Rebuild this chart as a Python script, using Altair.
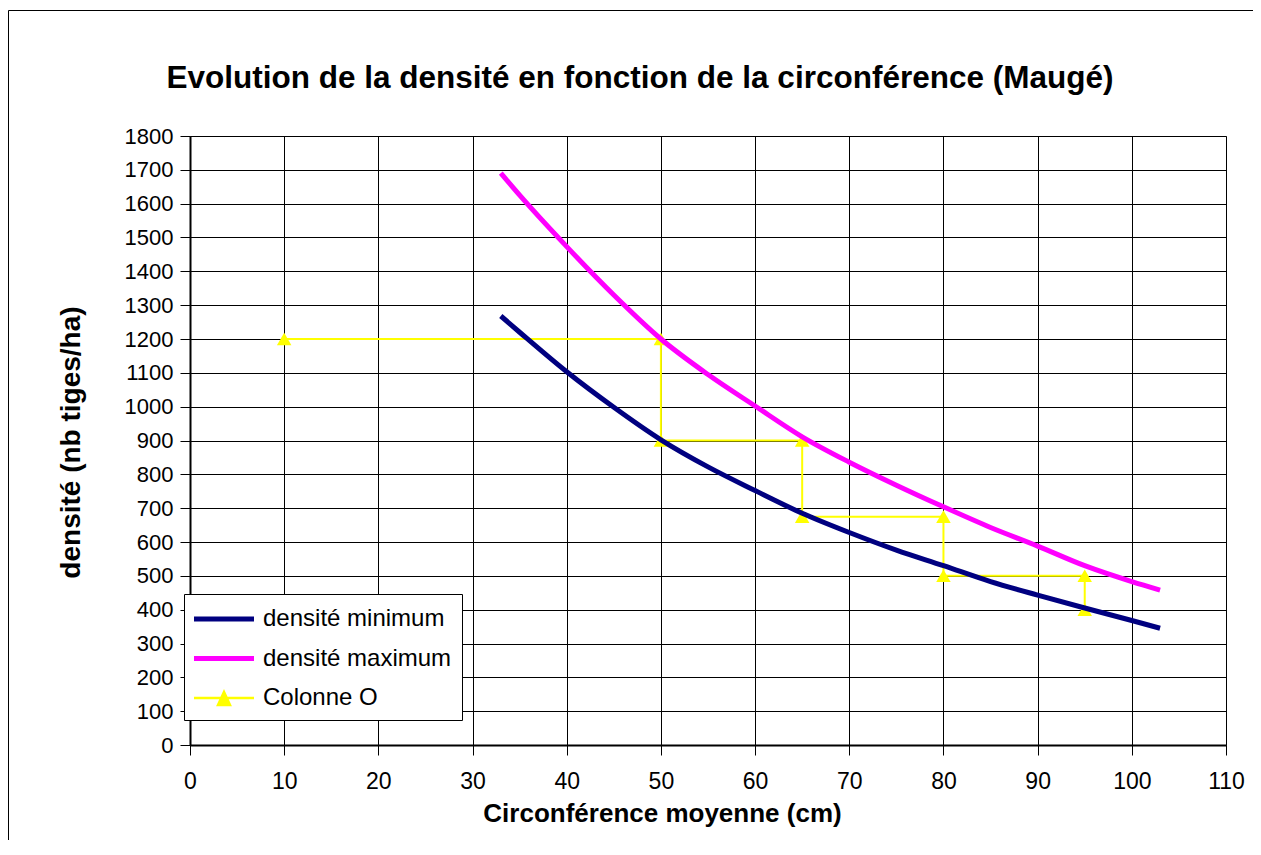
import altair as alt
import pandas as pd

# ---- data ----
series_names = ["densité minimum", "densité maximum", "Colonne O"]
series_colors = ["#000080", "#FF00FF", "#FFFF00"]

circ_curve = [33, 35, 40, 45, 50, 55, 60, 65, 70, 75, 80, 85, 90, 95, 100, 103]
dens_min = [1268, 1220, 1103, 998, 902, 822, 752, 685, 628, 576, 530, 483, 443, 405, 368, 345]
dens_max = [1690, 1625, 1473, 1330, 1200, 1095, 1002, 911, 836, 768, 704, 643, 588, 530, 483, 458]

circ_col_o = [10, 50, 50, 65, 65, 80, 80, 95, 95]
dens_col_o = [1200, 1200, 900, 900, 675, 675, 500, 500, 400]

x_ticks = list(range(0, 111, 10))
y_ticks = list(range(0, 1801, 100))

title_text = "Evolution de la densité en fonction de la circonférence (Maugé)"
x_title = "Circonférence moyenne (cm)"
y_title = "densité (nb tiges/ha)"

# ---- tables ----
df_min = pd.DataFrame({"c": circ_curve, "d": dens_min, "order": range(len(circ_curve))})
df_max = pd.DataFrame({"c": circ_curve, "d": dens_max, "order": range(len(circ_curve))})
df_o = pd.DataFrame({"c": circ_col_o, "d": dens_col_o, "order": range(len(circ_col_o))})
df_leg = pd.DataFrame({"series": series_names})

FONT = "Liberation Sans"
W, H = 1036, 609

xscale = alt.Scale(domain=[0, 110], nice=False, zero=False)
yscale = alt.Scale(domain=[0, 1800], nice=False)

xaxis = alt.Axis(values=x_ticks, format="d", title=x_title, grid=True, tickSize=10, labelPadding=15,
                 labelFlush=False, labelFontSize=23, titleFontSize=26,
                 titleX=472, titleY=76, titleBaseline="alphabetic", titleAlign="center")
yaxis = alt.Axis(values=y_ticks, format="d", title=y_title, grid=True, tickSize=10, labelPadding=7,
                 labelFlush=False, labelFontSize=22, titleFontSize=28,
                 titleX=-111, titleY=306, titleBaseline="alphabetic", titleAlign="center")

X = alt.X("c:Q", scale=xscale, axis=xaxis)
Y = alt.Y("d:Q", scale=yscale, axis=yaxis)

# outer frame of the chart object
frame = alt.Chart(pd.DataFrame({"k": [0]})).mark_rect(
    filled=False, stroke="black", strokeWidth=1
).encode(x=alt.value(-181.5), x2=alt.value(W + 400), y=alt.value(-125.5), y2=alt.value(H + 400))

line_o = alt.Chart(df_o).mark_line(color="#FFFF00", strokeWidth=2).encode(
    x=X, y=Y, order="order:Q")
pts_o = alt.Chart(df_o).mark_point(shape="triangle-up", filled=True, color="#FFFF00",
                                   size=210, opacity=1).encode(x=X, y=Y)
line_min = alt.Chart(df_min).mark_line(color="#000080", strokeWidth=5,
                                       interpolate="monotone").encode(x=X, y=Y, order="order:Q")
line_max = alt.Chart(df_max).mark_line(color="#FF00FF", strokeWidth=5,
                                       interpolate="monotone").encode(x=X, y=Y, order="order:Q")

# legend (symbol paths: thick line / thin line with triangle)
shape_paths = [
    "M-1,-0.17L3,-0.17L3,0.17L-1,0.17Z",
    "M-1,-0.17L3,-0.17L3,0.17L-1,0.17Z",
    "M-1,-0.08L3,-0.08L3,0.08L-1,0.08ZM0.47,0.55L1,-0.6L1.53,0.55Z",
]
leg = alt.Legend(title=None, orient="none", legendX=-6, legendY=458,
                 fillColor="white", strokeColor="black", padding=10, rowPadding=12.5,
                 symbolSize=900, symbolStrokeWidth=0, symbolOpacity=1, labelLimit=500,
                 labelFont=FONT, labelFontSize=24, labelColor="black", labelOffset=39)
legend_layer = alt.Chart(df_leg).mark_point(filled=True).encode(
    color=alt.Color("series:N", scale=alt.Scale(domain=series_names, range=series_colors), legend=leg),
    shape=alt.Shape("series:N", scale=alt.Scale(domain=series_names, range=shape_paths), legend=leg),
).transform_filter("false")

chart = alt.layer(frame, line_o, pts_o, line_min, line_max, legend_layer).properties(
    width=W, height=H,
    background="white",
    autosize=alt.AutoSizeParams(type="none"),
    padding={"left": 182, "top": 128, "right": 27, "bottom": 95},
    title=alt.TitleParams(title_text, font=FONT, fontSize=31.5, fontWeight="bold", color="black",
                          anchor="middle", frame="group", dx=-68, offset=-109, baseline="alphabetic"),
).configure_view(
    fill="#C0C0C0", stroke="#808080", strokeWidth=1
).configure_axis(
    gridColor="black", gridWidth=1, gridOpacity=1,
    domainColor="black", domainWidth=2, tickColor="black", tickWidth=1,
    labelFont=FONT, labelColor="black",
    titleFont=FONT, titleFontWeight="bold", titleColor="black",
)

chart.save("out.html", embed_options={"renderer": "svg", "actions": False})
